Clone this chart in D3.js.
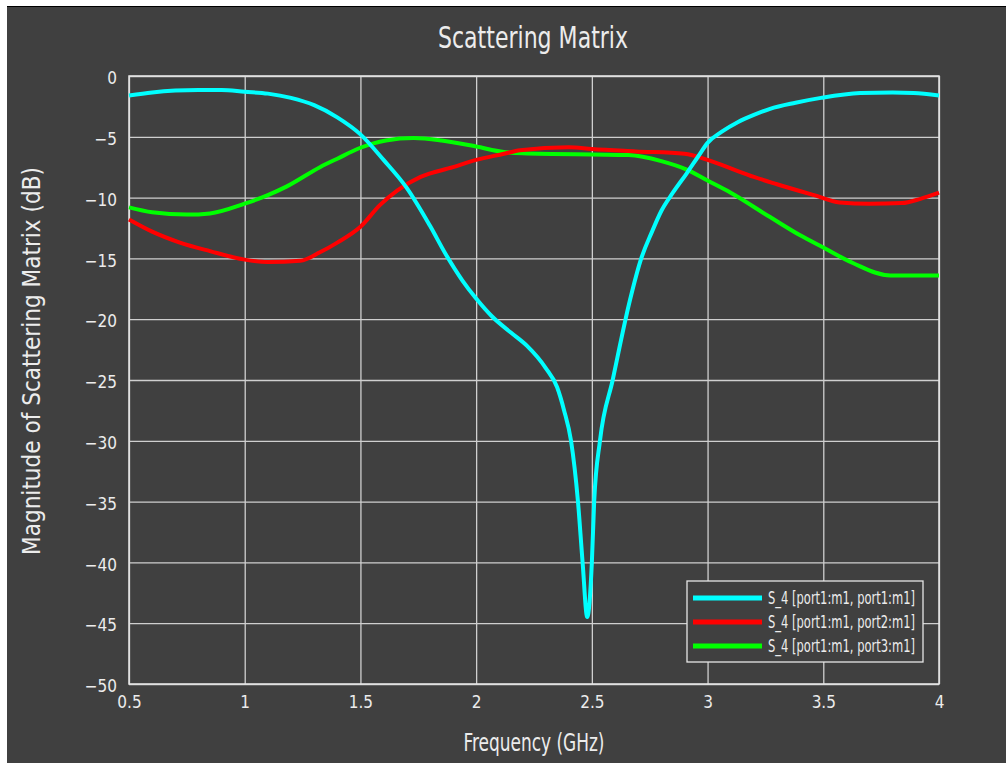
<!DOCTYPE html>
<html>
<head>
<meta charset="utf-8">
<script src="https://cdn.jsdelivr.net/npm/d3@7"></script>
<style>
  body { margin: 0; background: #ffffff; }
  svg { display: block; }
  text { font-family: "DejaVu Sans Condensed", "Liberation Sans Narrow", sans-serif; font-stretch: condensed; fill: #ececec; }
</style>
</head>
<body>
<svg></svg>
<script>
var svg = d3.select("svg");

var svgWidth = 1006, svgHeight = 763;
var margin = {top: 76, right: 67, bottom: 79, left: 129},
    width = svgWidth - margin.left - margin.right,
    height = svgHeight - margin.top - margin.bottom;

// data (GHz, dB)
var s11Freq = [0.5, 0.6, 0.7, 0.8, 0.9, 1.0, 1.1, 1.2, 1.3, 1.4, 1.5, 1.6, 1.7, 1.8, 1.87, 1.94, 2.0, 2.07, 2.15, 2.22, 2.3, 2.35, 2.38, 2.41, 2.44, 2.46, 2.48, 2.5, 2.51, 2.535, 2.59, 2.665, 2.71, 2.76, 2.8, 2.85, 2.91, 2.96, 3.0, 3.06, 3.13, 3.2, 3.27, 3.38, 3.49, 3.66, 3.8, 3.89, 4.0];
var s11 = [-1.6, -1.35, -1.2, -1.15, -1.15, -1.3, -1.45, -1.8, -2.4, -3.4, -4.8, -6.9, -9.2, -12.3, -14.7, -16.8, -18.3, -19.8, -21.1, -22.2, -24.0, -25.6, -27.5, -30, -35, -40, -44.5, -40, -35, -30, -25, -18.4, -15.2, -12.8, -11.1, -9.6, -8.0, -6.6, -5.5, -4.6, -3.8, -3.2, -2.7, -2.2, -1.8, -1.4, -1.35, -1.4, -1.6];

var s21Freq = [0.5, 0.6, 0.72, 0.85, 1.0, 1.1, 1.24, 1.325, 1.4, 1.5, 1.585, 1.66, 1.76, 1.9, 2.0, 2.12, 2.19, 2.4, 2.5, 2.69, 2.9, 3.0, 3.1, 3.2, 3.3, 3.46, 3.57, 3.7, 3.84, 3.92, 4.0];
var s21 = [-11.8, -12.8, -13.7, -14.4, -15.1, -15.3, -15.2, -14.5, -13.7, -12.4, -10.6, -9.4, -8.3, -7.5, -6.9, -6.4, -6.1, -5.85, -6.0, -6.2, -6.4, -6.9, -7.6, -8.3, -8.9, -9.8, -10.4, -10.5, -10.45, -10.1, -9.6];

var s31Freq = [0.5, 0.6, 0.75, 0.85, 1.0, 1.1, 1.18, 1.325, 1.4, 1.5, 1.61, 1.73, 1.85, 2.0, 2.12, 2.2, 2.66, 2.8, 2.91, 3.0, 3.1, 3.27, 3.4, 3.5, 3.63, 3.79, 4.0];
var s31 = [-10.8, -11.2, -11.4, -11.3, -10.5, -9.8, -9.1, -7.5, -6.8, -5.9, -5.3, -5.1, -5.3, -5.8, -6.25, -6.35, -6.5, -7.0, -7.7, -8.6, -9.6, -11.6, -13.1, -14.1, -15.4, -16.4, -16.4];

var seriesNames = ["S_4 [port1:m1, port1:m1]", "S_4 [port1:m1, port2:m1]", "S_4 [port1:m1, port3:m1]"];
var seriesColors = ["#00ffff", "#ff0000", "#00ff00"];
var xTicks = [0.5, 1, 1.5, 2, 2.5, 3, 3.5, 4];
var yTicks = [0, -5, -10, -15, -20, -25, -30, -35, -40, -45, -50];

svg.attr("width", svgWidth).attr("height", svgHeight);

// dark panel
svg.append("rect")
    .attr("x", 7).attr("y", 6)
    .attr("width", svgWidth - 7).attr("height", svgHeight - 6)
    .attr("fill", "#404040");
svg.append("line")
    .attr("x1", 7).attr("x2", svgWidth)
    .attr("y1", 6.5).attr("y2", 6.5)
    .attr("stroke", "#000").attr("stroke-width", 1);

var xScale = d3.scaleLinear().domain([0.5, 4]).range([0, width]);
var yScale = d3.scaleLinear().domain([-50, 0]).range([height, 0]);

var group = svg.append("g")
    .attr("transform", "translate(" + margin.left + "," + margin.top + ")");

// grid + x ticks
var xAxis = group.append("g")
    .attr("transform", "translate(0," + height + ")")
    .call(d3.axisBottom(xScale).tickValues(xTicks).tickSize(-height).tickPadding(10)
        .tickFormat(d3.format("")));
var yAxis = group.append("g")
    .call(d3.axisLeft(yScale).tickValues(yTicks).tickSize(-width).tickPadding(12)
        .tickFormat(function(d){ return d == 0 ? "0" : "\u2212" + Math.abs(d); }));

[xAxis, yAxis].forEach(function(a){
    a.select(".domain").remove();
    a.selectAll(".tick line").attr("stroke", "#cfcfcf").attr("stroke-width", 1.3);
    a.selectAll(".tick text").style("font-size", "17px").attr("fill", "#ececec");
});
yAxis.selectAll(".tick text").attr("dy", "0.45em");
xAxis.selectAll(".tick text").attr("dy", "0.8em");

// frame
group.append("rect")
    .attr("width", width).attr("height", height)
    .attr("fill", "none").attr("stroke", "#e6e6e6").attr("stroke-width", 1.5);

var line = d3.line()
    .x(function(d){ return xScale(d[0]); })
    .y(function(d){ return yScale(d[1]); })
    .curve(d3.curveMonotoneX);

var series = [d3.zip(s11Freq, s11), d3.zip(s21Freq, s21), d3.zip(s31Freq, s31)];

// draw green, red, then cyan on top
[2, 1, 0].forEach(function(i){
    group.append("path")
        .datum(series[i])
        .attr("d", line)
        .attr("fill", "none")
        .attr("stroke", seriesColors[i])
        .attr("stroke-width", 4)
        .attr("stroke-linejoin", "round");
});

// legend
var legend = svg.append("g").attr("transform", "translate(687,581)");
legend.append("rect")
    .attr("width", 236).attr("height", 81)
    .attr("fill", "#404040").attr("stroke", "#e6e6e6").attr("stroke-width", 1.3);
seriesNames.forEach(function(name, i){
    var ly = 17 + i * 24;
    legend.append("line")
        .attr("x1", 6).attr("x2", 75)
        .attr("y1", ly).attr("y2", ly)
        .attr("stroke", seriesColors[i]).attr("stroke-width", 5);
    legend.append("text")
        .attr("x", 81).attr("y", ly + 6)
        .attr("textLength", 147).attr("lengthAdjust", "spacingAndGlyphs")
        .style("font-size", "17px")
        .text(name);
});

// titles
svg.append("text")
    .attr("x", 533).attr("y", 48)
    .attr("text-anchor", "middle")
    .attr("textLength", 190).attr("lengthAdjust", "spacingAndGlyphs")
    .style("font-size", "31px")
    .text("Scattering Matrix");

svg.append("text")
    .attr("x", 534).attr("y", 751)
    .attr("text-anchor", "middle")
    .attr("textLength", 141).attr("lengthAdjust", "spacingAndGlyphs")
    .style("font-size", "25px")
    .text("Frequency (GHz)");

svg.append("text")
    .attr("transform", "translate(40,361) rotate(-90)")
    .attr("text-anchor", "middle")
    .attr("textLength", 388).attr("lengthAdjust", "spacingAndGlyphs")
    .style("font-size", "25px")
    .text("Magnitude of Scattering Matrix (dB)");
</script>
</body>
</html>
